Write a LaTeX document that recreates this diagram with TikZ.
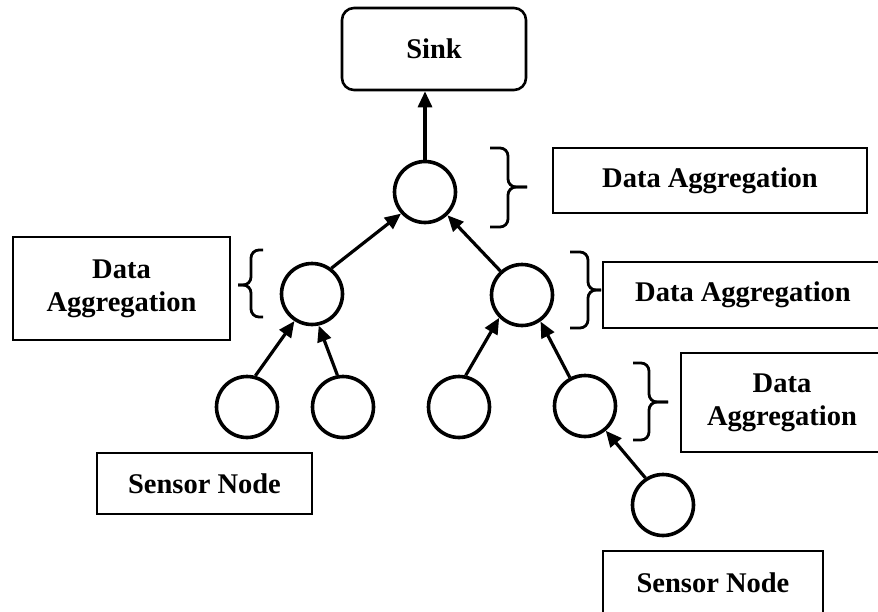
\documentclass[tikz,border=0pt]{standalone}
\usepackage{fontspec}
\setmainfont{Liberation Serif}
\usetikzlibrary{arrows.meta}
\tikzset{
  nd/.style={circle,draw,line width=3.6pt,minimum size=61pt,inner sep=0pt},
  lbl/.style={draw,line width=2.6pt,inner sep=0pt,font=\fontsize{28.5}{33}\selectfont\bfseries,align=center},
  arr/.style={line width=3.2pt,-{Triangle[length=16pt,width=14pt]}},
  brc/.style={line width=2.8pt,rounded corners=8pt}
}
\newcommand\mybrace[6]{% x0 xb xt yt ym yb
  \draw[brc] (#1,#4) -- (#2,#4) -- (#2,#5) -- (#3,#5);
  \draw[brc] (#1,#6) -- (#2,#6) -- (#2,#5) -- (#3,#5);
}
\begin{document}
\begin{tikzpicture}[x=1pt,y=-1pt]
\useasboundingbox (0,0) rectangle (878,611);
% boxes
\node[lbl,rounded corners=12pt,minimum width=184pt,minimum height=82pt] (sink) at (434,49) {Sink};
\node[lbl,minimum width=314pt,minimum height=65pt] (da1) at (710,180.5) {Data Aggregation};
\node[lbl,minimum width=217pt,minimum height=103pt] (da2) at (121.5,288.5) {Data\\Aggregation};
\node[lbl,minimum width=280pt,minimum height=66pt] (da3) at (743,295) {Data Aggregation};
\node[lbl,minimum width=202pt,minimum height=99pt] (da4) at (782,402.5) {Data\\Aggregation};
\node[lbl,minimum width=215pt,minimum height=61pt] (sn1) at (204.5,483.5) {Sensor Node};
\node[lbl,minimum width=220pt,minimum height=64pt] (sn2) at (713,583) {Sensor Node};
% circles
\node[nd] (t) at (425,192) {};
\node[nd] (l) at (312,294) {};
\node[nd] (r) at (522,295) {};
\node[nd] (b1) at (247,407) {};
\node[nd] (b2) at (343,407) {};
\node[nd] (b3) at (459,407) {};
\node[nd] (b4) at (585,406) {};
\node[nd] (b5) at (663,505) {};
% arrows
\draw[arr] (t.north) -- (t.north |- sink.south);
\draw[arr] (l.53) -- (t.222);
\draw[arr] (r.132) -- (t.314);
\draw[arr] (b1.75) -- (l.237);
\draw[arr] (b2.100) -- (l.282);
\draw[arr] (b3.78) -- (r.225);
\draw[arr] (b4.118) -- (r.305);
\draw[arr] (b5.123) -- (b4.310);
% braces
\mybrace{490}{508}{527}{148}{187}{227}
\mybrace{263}{251}{238}{250}{285}{317}
\mybrace{570}{588}{601}{252}{290}{328}
\mybrace{633}{649}{668}{363}{402}{440}
\end{tikzpicture}
\end{document}
